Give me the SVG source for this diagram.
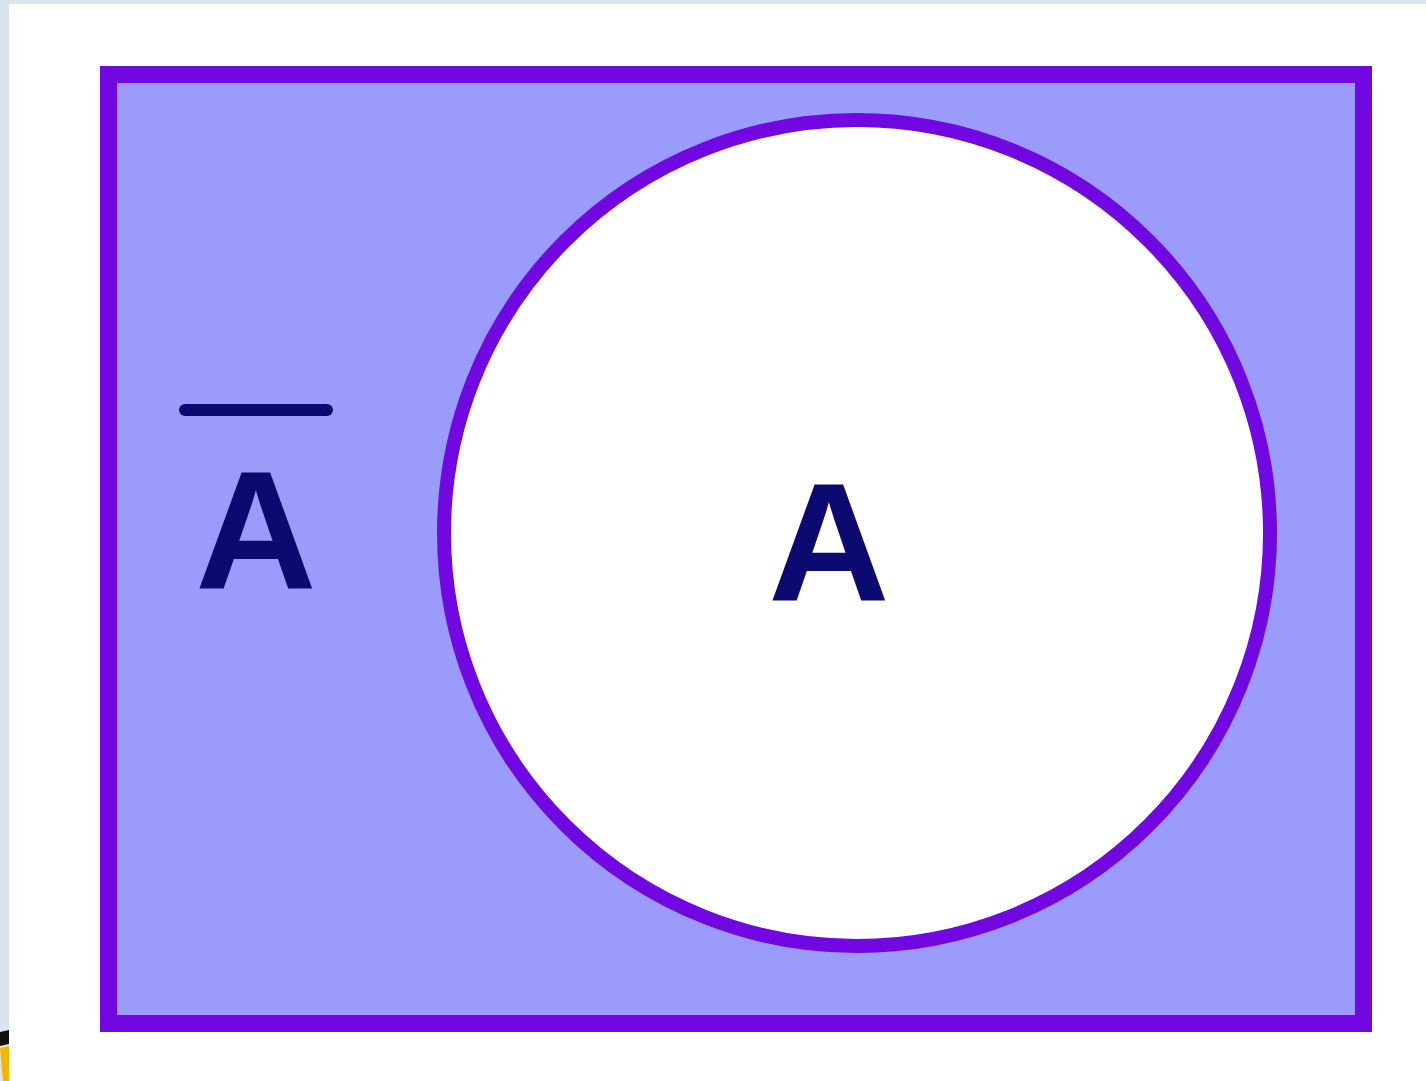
<svg xmlns="http://www.w3.org/2000/svg" width="1426" height="1081" viewBox="0 0 1426 1081">
  <style>
    .lbl { font-family: "Liberation Sans", Arial, sans-serif; font-weight: bold; font-size: 168px; fill: #0c0a70; text-anchor: middle; }
  </style>
  <rect x="0" y="0" width="1426" height="1081" fill="#dae4f1"/>
  <rect x="9" y="4" width="1417" height="1077" fill="#ffffff"/>
  <polygon points="0,1032 9,1030 9,1044 0,1046" fill="#111111"/>
  <polygon points="0,1048 9,1046 9,1081 3,1081" fill="#f7b500"/>
  <g id="universe">
    <rect x="108.5" y="74.5" width="1255" height="949" fill="#9b9bfc" stroke="#7108e2" stroke-width="17"/>
  </g>
  <g id="setA">
    <circle cx="857" cy="533" r="413" fill="#ffffff" stroke="#7108e2" stroke-width="14"/>
    <text class="lbl" x="829" y="601">A</text>
  </g>
  <g id="complement">
    <line x1="185" y1="410" x2="327" y2="410" stroke="#0c0a70" stroke-width="12" stroke-linecap="round"/>
    <text class="lbl" x="256" y="589">A</text>
  </g>
  <g id="connectors"></g>
</svg>
